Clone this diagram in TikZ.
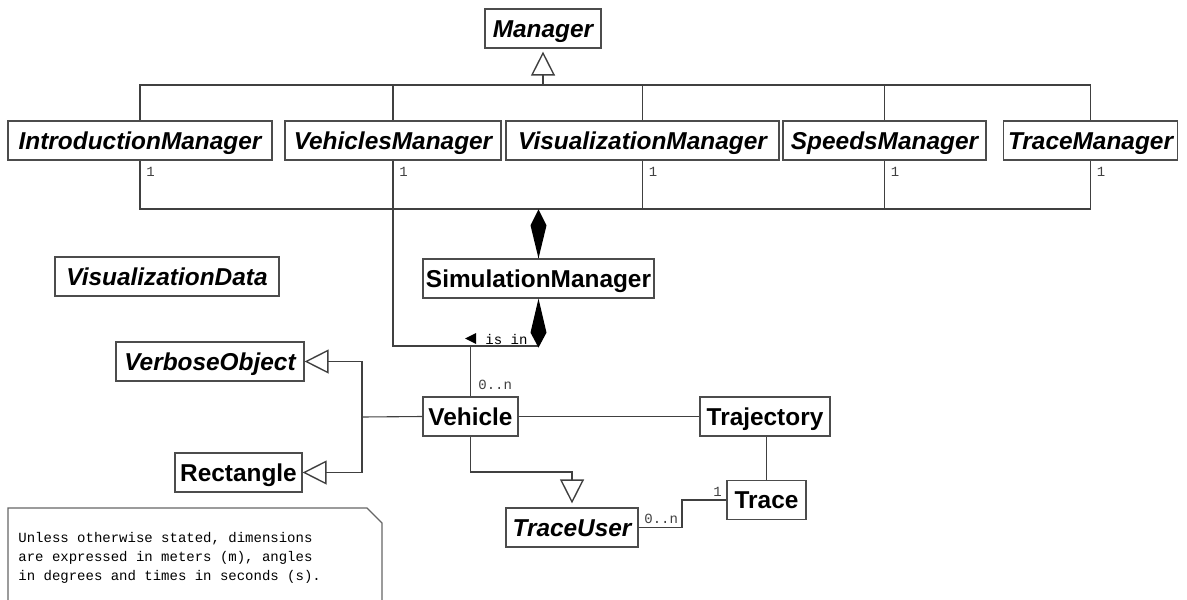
\documentclass[tikz,border=0pt]{standalone}
\usepackage{fontspec}
\setmainfont{Liberation Sans}
\setmonofont{Liberation Mono}
\usetikzlibrary{arrows.meta}

\begin{document}
\begin{tikzpicture}[x=0.5pt,y=-0.5pt,
    cls/.style={draw=black!70,line width=0.6pt,fill=white,minimum height=19.5pt,
      text height=8.7pt,text depth=0pt,inner xsep=1pt,inner ysep=0pt,
      font=\fontsize{12.2}{14}\selectfont\bfseries},
    abs/.style={cls,font=\fontsize{12.2}{14}\selectfont\bfseries\itshape},
    conn/.style={draw=black!75,line width=0.55pt},
    gen/.style={conn,-{Triangle[open,length=12pt,width=12pt,line width=0.7pt]}},
    mult/.style={font=\fontsize{7}{8}\selectfont\ttfamily,text=black!75,inner sep=0pt}]
  \useasboundingbox (0,0) rectangle (1187,599);

  % classes
  \node[abs,minimum width=58pt] (man) at (543,28.5) {Manager};
  \node[abs,minimum width=132pt] (intm) at (140,140.5) {IntroductionManager};
  \node[abs,minimum width=108pt] (vehm) at (393,140.5) {VehiclesManager};
  \node[abs,minimum width=136.5pt] (vism) at (642.5,140.5) {VisualizationManager};
  \node[abs,minimum width=101.5pt] (spdm) at (884.5,140.5) {SpeedsManager};
  \node[abs,minimum width=87pt] (trcm) at (1090.5,140.5) {TraceManager};
  \node[cls,minimum width=115.5pt] (sim) at (538.5,278.5) {SimulationManager};
  \node[abs,minimum width=112pt] (visd) at (167,276.5) {VisualizationData};
  \node[abs,minimum width=94pt] (verb) at (210,361.5) {VerboseObject};
  \node[cls,minimum width=63.5pt] (rect) at (238.5,472.5) {Rectangle};
  \node[cls,minimum width=47.5pt] (veh) at (470.5,416.5) {Vehicle};
  \node[cls,minimum width=65pt] (traj) at (765,416.5) {Trajectory};
  \node[cls,minimum width=39.5pt] (trc) at (766.5,500) {Trace};
  \node[abs,minimum width=66pt] (tru) at (572,527.5) {TraceUser};

  \coordinate (genbus) at (543,85);
  \coordinate (compbus) at (538.5,209);
  \coordinate (isin) at (538.5,346);
  \coordinate (vojoin) at (362,417);
  \coordinate (trujog) at (572,472);
  \coordinate (trcjog) at (682,514);

  % managers
  \draw[conn] (intm.north) |- (trcm.north |- genbus) -- (trcm.north);
  \foreach \m in {vehm,vism,spdm}
    \draw[conn] (\m.north) -- (\m.north |- genbus);
  \draw[gen,shorten >=1.5pt] (genbus) -- (man.south);

  \draw[conn] (intm.south) |- (trcm.south |- compbus) -- (trcm.south);
  \foreach \m in {vism,spdm}
    \draw[conn] (\m.south) -- (\m.south |- compbus);
  \draw[conn] (sim.north) -- (compbus);
  \fill (sim.north) -- ++(8,-33) -- ++(-8,-16) -- ++(-8,16) -- cycle;
  \foreach \m in {intm,vehm,vism,spdm,trcm}
    \node[mult,anchor=base west] at ([xshift=3pt,yshift=-8pt]\m.south) {1};

  % vehicles
  \draw[conn] (vehm.south) |- (isin);
  \fill (sim.south) -- ++(8,34) -- ++(-8,15) -- ++(-8,-15) -- cycle;
  \draw[conn] (veh.north) -- (veh.north |- isin);
  \fill (465,338.5) -- (476,333) -- (476,344) -- cycle;
  \node[mult,text=black,anchor=base west] at (485,344) {is in};
  \node[mult,anchor=base west] at (478,389) {0..n};

  \draw[conn] (veh.east) -- (traj.west);
  \draw[conn] (trc.north) -- (trc.north |- traj.south);
  \draw[gen,shorten >=2pt] (veh.south) |- (trujog) -- (tru.north);
  \draw[conn] (tru.east) -| (trcjog) |- (trc.west);
  \node[mult,anchor=base west] at (644,523) {0..n};
  \node[mult,anchor=base west] at (713,496) {1};

  \draw[conn] (veh.west) -- (vojoin);
  \draw[gen] (vojoin) |- (verb.east);
  \draw[gen] (vojoin) |- (rect.east);

  % note
  \draw[black!60,line width=0.6pt] (8,605) |- (367,508) -- (382,523) -- (382,605);
  \node[anchor=north west,align=left,inner sep=0pt,
    font=\fontsize{7}{9.5}\selectfont\ttfamily] (note) at (18,532)
    {Unless otherwise stated, dimensions\\are expressed in meters (m), angles\\in degrees and times in seconds (s).};
\end{tikzpicture}
\end{document}
